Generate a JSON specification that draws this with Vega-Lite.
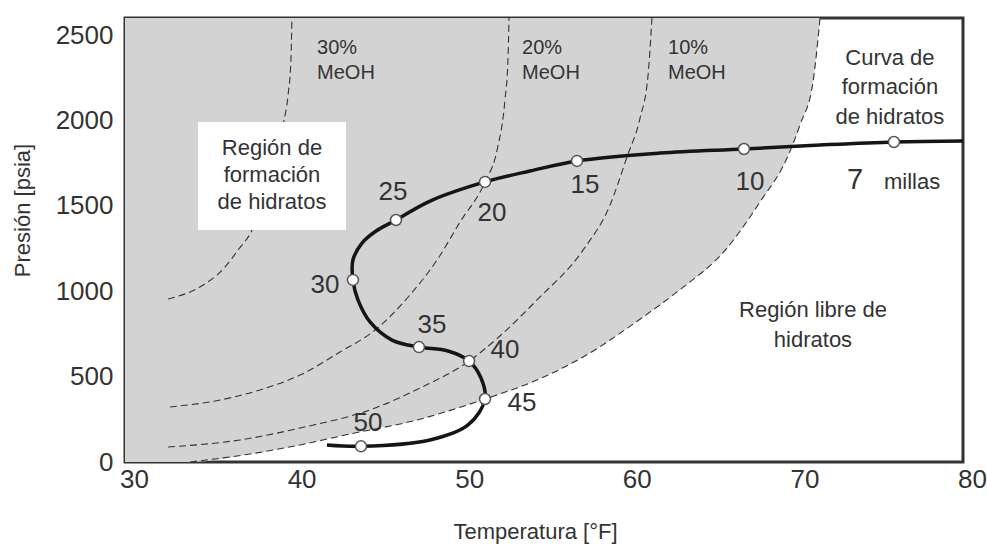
{
  "$schema": "https://vega.github.io/schema/vega-lite/v6.json",
  "width": 838,
  "height": 444,
  "autosize": "none",
  "padding": {"left": 125, "top": 18, "right": 24, "bottom": 84},
  "background": "white",
  "config": {
    "view": {"stroke": "#333333", "strokeWidth": 3},
    "font": "Liberation Sans",
    "text": {"font": "Liberation Sans", "color": "#333333"}
  },
  "datasets": {
    "zona": [
      {"T": 30.0, "P": 0}, {"T": 33.88, "P": 0}, {"T": 37.46, "P": 47}, {"T": 40.44, "P": 100},
      {"T": 43.42, "P": 164}, {"T": 47.42, "P": 246}, {"T": 51.48, "P": 369}, {"T": 54.58, "P": 480},
      {"T": 57.33, "P": 615}, {"T": 60.91, "P": 849}, {"T": 62.94, "P": 996},
      {"T": 65.92, "P": 1253}, {"T": 67.89, "P": 1523}, {"T": 69.5, "P": 1780}, {"T": 70.27, "P": 1973},
      {"T": 71.05, "P": 2225}, {"T": 71.47, "P": 2600}
    ],
    "curvas": [
      {"curva": "0%", "T": 33.88, "P": 0}, {"curva": "0%", "T": 37.46, "P": 47}, {"curva": "0%", "T": 40.44, "P": 100},
      {"curva": "0%", "T": 43.42, "P": 164}, {"curva": "0%", "T": 47.42, "P": 246}, {"curva": "0%", "T": 51.48, "P": 369},
      {"curva": "0%", "T": 54.58, "P": 480}, {"curva": "0%", "T": 57.33, "P": 615}, {"curva": "0%", "T": 60.91, "P": 849},
      {"curva": "0%", "T": 62.94, "P": 996}, {"curva": "0%", "T": 65.92, "P": 1253},
      {"curva": "0%", "T": 67.89, "P": 1523}, {"curva": "0%", "T": 69.5, "P": 1780}, {"curva": "0%", "T": 70.27, "P": 1973},
      {"curva": "0%", "T": 71.05, "P": 2225}, {"curva": "0%", "T": 71.47, "P": 2600},
      {"curva": "10%", "T": 32.57, "P": 88}, {"curva": "10%", "T": 36.86, "P": 129}, {"curva": "10%", "T": 40.44, "P": 199},
      {"curva": "10%", "T": 44.92, "P": 316}, {"curva": "10%", "T": 47.6, "P": 433}, {"curva": "10%", "T": 50.53, "P": 591},
      {"curva": "10%", "T": 52.37, "P": 738}, {"curva": "10%", "T": 54.58, "P": 949}, {"curva": "10%", "T": 57.33, "P": 1241},
      {"curva": "10%", "T": 58.94, "P": 1505}, {"curva": "10%", "T": 59.95, "P": 1786}, {"curva": "10%", "T": 60.73, "P": 2014},
      {"curva": "10%", "T": 61.21, "P": 2266}, {"curva": "10%", "T": 61.44, "P": 2600},
      {"curva": "20%", "T": 32.68, "P": 322}, {"curva": "20%", "T": 35.67, "P": 363}, {"curva": "20%", "T": 38.05, "P": 422},
      {"curva": "20%", "T": 40.44, "P": 509}, {"curva": "20%", "T": 42.83, "P": 644}, {"curva": "20%", "T": 44.92, "P": 773},
      {"curva": "20%", "T": 47.0, "P": 978}, {"curva": "20%", "T": 48.62, "P": 1183}, {"curva": "20%", "T": 49.99, "P": 1405},
      {"curva": "20%", "T": 51.48, "P": 1640}, {"curva": "20%", "T": 52.2, "P": 1827}, {"curva": "20%", "T": 52.67, "P": 2120},
      {"curva": "20%", "T": 52.85, "P": 2354}, {"curva": "20%", "T": 52.91, "P": 2600},
      {"curva": "30%", "T": 32.57, "P": 955}, {"curva": "30%", "T": 34.36, "P": 1019}, {"curva": "30%", "T": 35.97, "P": 1142},
      {"curva": "30%", "T": 36.74, "P": 1241}, {"curva": "30%", "T": 37.58, "P": 1359}, {"curva": "30%", "T": 38.23, "P": 1534},
      {"curva": "30%", "T": 38.95, "P": 1739}, {"curva": "30%", "T": 39.43, "P": 1973}, {"curva": "30%", "T": 39.73, "P": 2149},
      {"curva": "30%", "T": 39.9, "P": 2354}, {"curva": "30%", "T": 39.96, "P": 2600}
    ],
    "ducto": [
      {"i": 0, "T": 42.05, "P": 100}, {"i": 1, "T": 44.08, "P": 92}, {"i": 2, "T": 48.2, "P": 129},
      {"i": 3, "T": 50.47, "P": 217}, {"i": 4, "T": 51.48, "P": 369}, {"i": 5, "T": 51.24, "P": 492},
      {"i": 6, "T": 50.53, "P": 591}, {"i": 7, "T": 49.27, "P": 650}, {"i": 8, "T": 47.54, "P": 673},
      {"i": 9, "T": 45.93, "P": 714}, {"i": 10, "T": 44.62, "P": 820}, {"i": 11, "T": 43.9, "P": 949},
      {"i": 12, "T": 43.6, "P": 1066}, {"i": 13, "T": 43.6, "P": 1183}, {"i": 14, "T": 44.14, "P": 1282},
      {"i": 15, "T": 44.98, "P": 1353}, {"i": 16, "T": 46.17, "P": 1417}, {"i": 17, "T": 48.2, "P": 1528},
      {"i": 18, "T": 51.48, "P": 1640}, {"i": 19, "T": 54.16, "P": 1704}, {"i": 20, "T": 56.97, "P": 1763},
      {"i": 21, "T": 61.92, "P": 1809}, {"i": 22, "T": 66.93, "P": 1833}, {"i": 23, "T": 71.47, "P": 1856},
      {"i": 24, "T": 75.88, "P": 1874}, {"i": 25, "T": 80.0, "P": 1880}
    ],
    "marcadores": [
      {"milla": 50, "T": 44.08, "P": 92}, {"milla": 45, "T": 51.48, "P": 369}, {"milla": 40, "T": 50.53, "P": 591},
      {"milla": 35, "T": 47.54, "P": 673}, {"milla": 30, "T": 43.6, "P": 1066}, {"milla": 25, "T": 46.17, "P": 1417},
      {"milla": 20, "T": 51.48, "P": 1640}, {"milla": 15, "T": 56.97, "P": 1763}, {"milla": 10, "T": 66.93, "P": 1833},
      {"milla": 7, "T": 75.88, "P": 1874}
    ],
    "etiquetas": [
      {"txt": "50", "T": 44.5, "P": 228}, {"txt": "45", "T": 53.69, "P": 346}, {"txt": "40", "T": 52.67, "P": 656},
      {"txt": "35", "T": 48.32, "P": 802}, {"txt": "30", "T": 41.93, "P": 1037}, {"txt": "25", "T": 45.99, "P": 1581},
      {"txt": "20", "T": 51.9, "P": 1458}, {"txt": "15", "T": 57.45, "P": 1622}, {"txt": "10", "T": 67.29, "P": 1640}
    ]
  },
  "layer": [
    {
      "data": {"name": "zona"},
      "mark": {"type": "area", "color": "#d3d3d3", "interpolate": "monotone", "clip": true},
      "encoding": {
        "x": {"field": "T", "type": "quantitative", "scale": {"domain": [30, 80], "nice": false, "zero": false},
          "axis": {"title": "Temperatura [°F]", "values": [30, 40, 50, 60, 70, 80], "grid": false, "ticks": false, "domain": false,
            "labelFont": "Liberation Sans", "labelFontSize": 26, "labelColor": "#333333", "labelPadding": 4, "labelOffset": 9,
            "labelFlush": false, "labelOverlap": false,
            "titleFont": "Liberation Sans", "titleFontSize": 22, "titleFontWeight": "normal", "titleColor": "#333333",
            "titleX": 410, "titleY": 76, "titleBaseline": "alphabetic", "titleAlign": "center"}},
        "y": {"field": "P", "type": "quantitative", "scale": {"domain": [0, 2600], "nice": false},
          "axis": {"title": "Presión [psia]", "values": [0, 500, 1000, 1500, 2000, 2500], "format": "d", "grid": false, "ticks": false, "domain": false,
            "labelFont": "Liberation Sans", "labelFontSize": 26, "labelColor": "#333333", "labelPadding": 12,
            "labelFlush": false, "labelOverlap": false,
            "titleFont": "Liberation Sans", "titleFontSize": 22, "titleFontWeight": "normal", "titleColor": "#333333",
            "titleX": -103, "titleY": 192, "titleBaseline": "middle", "titleAlign": "center", "titleAngle": -90}},
        "y2": {"datum": 2600}
      }
    },
    {
      "data": {"name": "curvas"},
      "mark": {"type": "line", "color": "#333333", "strokeWidth": 1.1, "strokeDash": [7, 4], "interpolate": "monotone", "clip": true},
      "encoding": {
        "x": {"field": "T", "type": "quantitative"},
        "y": {"field": "P", "type": "quantitative"},
        "detail": {"field": "curva"}
      }
    },
    {
      "data": {"values": [{"T1": 34.36, "T2": 43.19, "P1": 1359, "P2": 1991}]},
      "mark": {"type": "rect", "color": "white"},
      "encoding": {
        "x": {"field": "T1", "type": "quantitative"},
        "x2": {"field": "T2"},
        "y": {"field": "P1", "type": "quantitative"},
        "y2": {"field": "P2"}
      }
    },
    {
      "data": {"name": "ducto"},
      "mark": {"type": "line", "color": "#151515", "strokeWidth": 3.5, "interpolate": "catmull-rom", "clip": true},
      "encoding": {
        "x": {"field": "T", "type": "quantitative"},
        "y": {"field": "P", "type": "quantitative"},
        "order": {"field": "i", "type": "quantitative"}
      }
    },
    {
      "data": {"name": "marcadores"},
      "mark": {"type": "point", "filled": true, "fill": "white", "stroke": "#555555", "strokeWidth": 1.5, "size": 120, "opacity": 1},
      "encoding": {
        "x": {"field": "T", "type": "quantitative"},
        "y": {"field": "P", "type": "quantitative"}
      }
    },
    {
      "data": {"name": "etiquetas"},
      "mark": {"type": "text", "fontSize": 26, "align": "center", "baseline": "middle"},
      "encoding": {
        "x": {"field": "T", "type": "quantitative"},
        "y": {"field": "P", "type": "quantitative"},
        "text": {"field": "txt"}
      }
    },
    {
      "data": {"values": [{"txt": "7", "T": 73.56, "P": 1651}]},
      "mark": {"type": "text", "fontSize": 29, "align": "center", "baseline": "middle"},
      "encoding": {
        "x": {"field": "T", "type": "quantitative"},
        "y": {"field": "P", "type": "quantitative"},
        "text": {"field": "txt"}
      }
    },
    {
      "data": {"values": [{"txt": "millas", "T": 76.96, "P": 1640}]},
      "mark": {"type": "text", "fontSize": 22, "align": "center", "baseline": "middle"},
      "encoding": {
        "x": {"field": "T", "type": "quantitative"},
        "y": {"field": "P", "type": "quantitative"},
        "text": {"field": "txt"}
      }
    },
    {
      "data": {"values": [
        {"txt": "30%\nMeOH", "T": 41.46, "P": 2424},
        {"txt": "20%\nMeOH", "T": 53.69, "P": 2424},
        {"txt": "10%\nMeOH", "T": 62.4, "P": 2424}
      ]},
      "mark": {"type": "text", "fontSize": 20, "align": "left", "baseline": "middle", "lineBreak": "\n", "lineHeight": 25},
      "encoding": {
        "x": {"field": "T", "type": "quantitative"},
        "y": {"field": "P", "type": "quantitative"},
        "text": {"field": "txt"}
      }
    },
    {
      "data": {"values": [
        {"txt": "Curva de\nformación\nde hidratos", "T": 75.64, "P": 2366},
        {"txt": "Región libre de\nhidratos", "T": 71.05, "P": 890}
      ]},
      "mark": {"type": "text", "fontSize": 22, "align": "center", "baseline": "middle", "lineBreak": "\n", "lineHeight": 29.5},
      "encoding": {
        "x": {"field": "T", "type": "quantitative"},
        "y": {"field": "P", "type": "quantitative"},
        "text": {"field": "txt"}
      }
    },
    {
      "data": {"values": [
        {"txt": "Región de\nformación\nde hidratos", "T": 38.77, "P": 1839}
      ]},
      "mark": {"type": "text", "fontSize": 22, "align": "center", "baseline": "middle", "lineBreak": "\n", "lineHeight": 27},
      "encoding": {
        "x": {"field": "T", "type": "quantitative"},
        "y": {"field": "P", "type": "quantitative"},
        "text": {"field": "txt"}
      }
    }
  ]
}
